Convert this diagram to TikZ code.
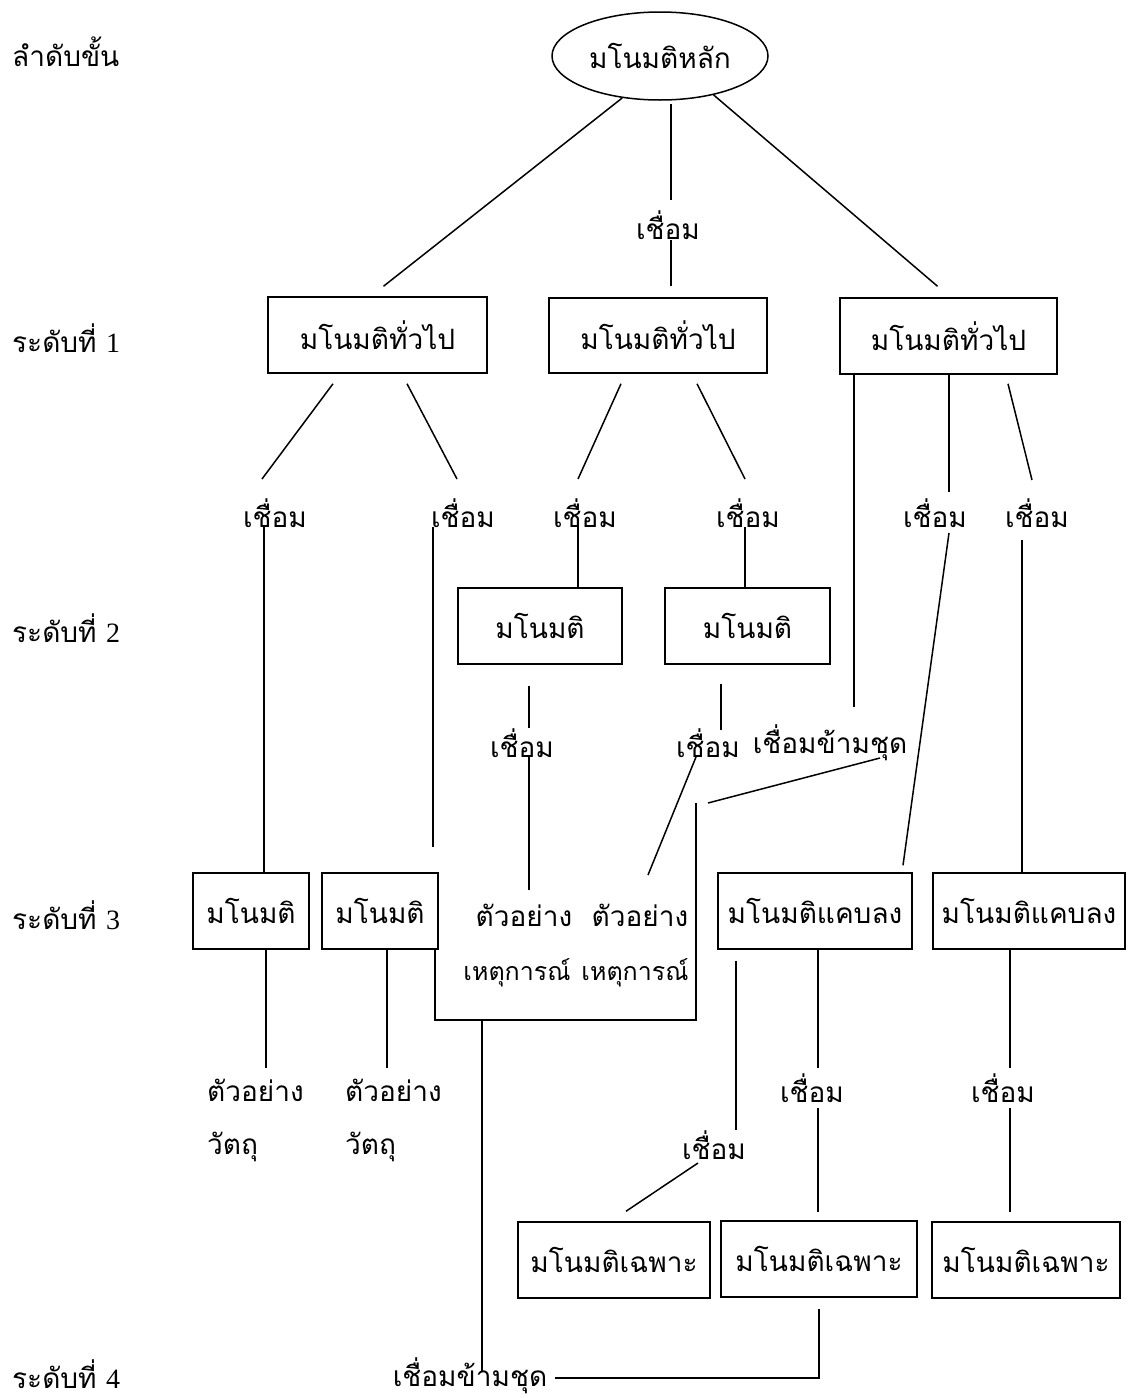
\documentclass[tikz,border=0pt]{standalone}
\usepackage{fontspec}
\setmainfont{Liberation Serif}
\newfontfamily\thaifont[Script=Thai]{Loma}
\usetikzlibrary{shapes.geometric,calc}
\begin{document}
\begin{tikzpicture}[x=1pt,y=-1pt,
  every node/.style={font=\thaifont\fontsize{28}{32}\selectfont, inner sep=0pt},
  bx/.style={draw, line width=1.5pt},
  ln/.style={line width=1.5pt},
  evt/.style={font=\thaifont\fontsize{25}{30}\selectfont},
]
\fill[white] (0,0) rectangle (1129,1398);
\useasboundingbox (0,0) rectangle (1129,1398);

% level labels
\node[anchor=west] (r0) at (12,52) {ลำดับขั้น};
\node[anchor=west] (r1) at (12,338) {ระดับที่ {\rmfamily 1}};
\node[anchor=west] (r2) at (12,628) {ระดับที่ {\rmfamily 2}};
\node[anchor=west] (r3) at (12,915) {ระดับที่ {\rmfamily 3}};
\node[anchor=base west] (r4) at (12,1388) {ระดับที่ {\rmfamily 4}};

% main concept
\node[draw, ellipse, line width=1.5pt, minimum width=216pt, minimum height=88pt] (E) at (660,56) {มโนมติหลัก};

% level 1
\node[bx, minimum width=219pt, minimum height=76pt] (L1a) at (377.5,335) {มโนมติทั่วไป};
\node[bx, minimum width=218pt, minimum height=75pt] (L1b) at (658,335.5) {มโนมติทั่วไป};
\node[bx, minimum width=217pt, minimum height=76pt] (L1c) at (948.5,336) {มโนมติทั่วไป};

% level 2
\node[bx, minimum width=164pt, minimum height=76pt] (L2a) at (540,626) {มโนมติ};
\node[bx, minimum width=165pt, minimum height=76pt] (L2b) at (747.5,626) {มโนมติ};

% level 3
\node[bx, minimum width=116pt, minimum height=76pt] (L3a) at (251,911) {มโนมติ};
\node[bx, minimum width=116pt, minimum height=76pt] (L3b) at (380,911) {มโนมติ};
\node[bx, minimum width=194pt, minimum height=76pt] (L3c) at (815,911) {มโนมติแคบลง};
\node[bx, minimum width=192pt, minimum height=76pt] (L3d) at (1029,911) {มโนมติแคบลง};

% level 4
\node[bx, minimum width=192pt, minimum height=76pt] (L4a) at (614,1260) {มโนมติเฉพาะ};
\node[bx, minimum width=196pt, minimum height=76pt] (L4b) at (819,1259) {มโนมติเฉพาะ};
\node[bx, minimum width=188pt, minimum height=76pt] (L4c) at (1026,1260) {มโนมติเฉพาะ};

% link labels
\node (jm0) at (668,225) {เชื่อม};
\node (j1) at (275,513) {เชื่อม};
\node (j2) at (463,513) {เชื่อม};
\node (j3) at (585,513) {เชื่อม};
\node (j4) at (748,513) {เชื่อม};
\node (j5) at (935,513) {เชื่อม};
\node (j6) at (1037,513) {เชื่อม};
\node (j7) at (522,743) {เชื่อม};
\node (j8) at (708,743) {เชื่อม};
\node (xs1) at (830,743) {เชื่อมข้ามชุด};
\node (ex1) at (524,915) {ตัวอย่าง};
\node (ex2) at (640,915) {ตัวอย่าง};
\node[evt] (ev1) at (517,973) {เหตุการณ์};
\node[evt] (ev2) at (635,973) {เหตุการณ์};
\node[anchor=west] (t1) at (207,1090) {ตัวอย่าง};
\node[anchor=west] (v1) at (207,1147) {วัตถุ};
\node[anchor=west] (t2) at (345,1090) {ตัวอย่าง};
\node[anchor=west] (v2) at (345,1147) {วัตถุ};
\node (j9) at (812,1088) {เชื่อม};
\node (j10) at (714,1145) {เชื่อม};
\node (j11) at (1003,1088) {เชื่อม};
\node[anchor=base] (xs2) at (470,1386) {เชื่อมข้ามชุด};

% free ends of the cross-set bracket
\coordinate (br1) at (708,803);
\coordinate (br2) at (696,803);
\coordinate (br3) at (696,1020);
\coordinate (br4) at (482,1020);

% connectors
\draw[ln] (E.228) -- ($(L1a.north)+(6,-10)$);
\draw[ln] ($(E.south)+(11,3)$) -- ($(jm0)+(3,-25)$);
\draw[ln] ($(jm0)+(3,15)$) -- ($(L1b.north)+(13,-11)$);
\draw[ln] (E.-36) -- ($(L1c.north)+(-11,-11)$);

\draw[ln] ($(L1a.south)+(-44.5,10)$) -- ($(j1)+(-13,-34)$);
\draw[ln] ($(L1a.south)+(29.5,10)$) -- ($(j2)+(-6,-34)$);
\draw[ln] ($(j1)+(-11,14)$) -- ($(L3a.north)+(13,0)$);
\draw[ln] ($(j2)+(-30,14)$) -- ($(L3b.north)+(53,-25)$);

\draw[ln] ($(L1b.south)+(-37,10)$) -- ($(j3)+(-7,-34)$);
\draw[ln] ($(L1b.south)+(39,10)$) -- ($(j4)+(-3,-34)$);
\draw[ln] ($(j3)+(-7,14)$) -- ($(L2a.north)+(38,0)$);
\draw[ln] ($(j4)+(-3,14)$) -- ($(L2b.north)+(-2.5,0)$);

\draw[ln] ($(L1c.south)+(-94.5,0)$) -- ($(xs1)+(24,-36)$);
\draw[ln] ($(L1c.south)+(0.5,0)$) -- ($(j5)+(14,-21)$);
\draw[ln] ($(j5)+(14,20)$) -- ($(L3c.north)+(88,-7)$);
\draw[ln] ($(L1c.south)+(59.5,9)$) -- ($(j6)+(-5,-33)$);
\draw[ln] ($(j6)+(-15,27)$) -- ($(L3d.north)+(-7,0)$);

\draw[ln] ($(L2a.south)+(-11,21)$) -- ($(j7)+(7,-15)$);
\draw[ln] ($(j7)+(7,14)$) -- ($(ex1)+(5,-25)$);
\draw[ln] ($(L2b.south)+(-26.5,19)$) -- ($(j8)+(13,-13)$);
\draw[ln] ($(j8)+(-12,14)$) -- ($(ex2)+(8,-40)$);

\draw[ln] ($(xs1)+(50,15)$) -- (br1);
\draw[ln] (br2) -- (br3) -| ($(L3b.south east)+(-4,0)$);
\draw[ln] (br4) -- ($(xs2.base)+(12,-14)$);
\draw[ln] ($(xs2.base)+(85,-8)$) -| ($(L4b.south)+(0,11)$);

\draw[ln] ($(L3a.south)+(15,0)$) -- ($(t1.west)+(59,-22)$);
\draw[ln] ($(L3b.south)+(7,0)$) -- ($(t2.west)+(42,-22)$);

\draw[ln] ($(L3c.south)+(3,0)$) -- ($(j9)+(6,-20)$);
\draw[ln] ($(j9)+(6,20)$) -- ($(L4b.north)+(-1,-8)$);
\draw[ln] ($(L3c.south)+(-79,11)$) -- ($(j10)+(22,-15)$);
\draw[ln] ($(j10)+(-16,18)$) -- ($(L4a.north)+(12,-10)$);
\draw[ln] ($(L3d.south)+(-19,0)$) -- ($(j11)+(7,-20)$);
\draw[ln] ($(j11)+(7,20)$) -- ($(L4c.north)+(-16,-9)$);
\end{tikzpicture}
\end{document}
